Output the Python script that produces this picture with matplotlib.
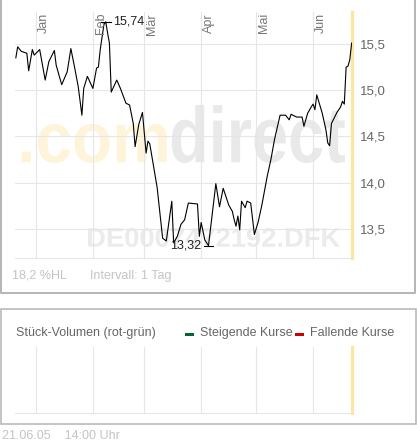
"""comdirect style price chart (Dec 2004 - Jun 2005) -> out.png"""

import numpy as np
import matplotlib
matplotlib.use("Agg")
import matplotlib.pyplot as plt
from matplotlib.font_manager import FontProperties
from matplotlib.patches import PathPatch, Rectangle
from matplotlib.textpath import TextPath
from matplotlib.transforms import Affine2D

plt.rcParams["font.family"] = ["Liberation Sans", "DejaVu Sans"]

# days since 2005-01-01, closing price
DAYS = [-11, -10, -8, -5, -4, -2, -1, 2, 5, 7, 10, 11, 14, 17, 19, 21, 23, 25, 26, 28,
        31, 33, 34, 35, 37, 38, 39, 40, 41, 44, 46, 49, 51, 53, 54, 56, 58, 60, 61, 62,
        66, 69, 71, 74, 75, 77, 79, 81, 83, 88, 89, 90, 92, 94, 98, 100, 102, 105, 107, 108,
        109, 110, 111, 112, 114, 115, 117, 119, 121, 123, 126, 128, 130, 133, 136, 138, 139, 142, 145, 146,
        148, 150, 151, 152, 153, 156, 158, 159, 160, 161, 164, 166, 167, 168, 169, 170, 171, 172]
PRICE = [15.35, 15.47, 15.42, 15.40, 15.21, 15.44, 15.38, 15.44, 15.11, 15.31, 15.43, 15.27, 15.06, 15.20, 15.45, 15.25, 15.04, 14.73, 15.02, 15.15,
         15.02, 15.24, 15.25, 15.44, 15.71, 15.74, 15.62, 15.51, 14.98, 15.11, 15.02, 14.86, 14.84, 14.64, 14.39, 14.63, 14.76, 14.32, 14.45, 14.42,
         13.95, 13.40, 13.37, 13.80, 13.35, 13.42, 13.55, 13.60, 13.78, 13.77, 13.42, 13.57, 13.38, 13.32, 13.99, 13.74, 13.94, 13.76, 13.69, 13.60,
         13.53, 13.64, 13.49, 13.80, 13.73, 13.80, 13.78, 13.44, 13.57, 13.75, 14.07, 14.25, 14.47, 14.73, 14.73, 14.68, 14.74, 14.71, 14.71, 14.61,
         14.75, 14.82, 14.85, 14.79, 14.95, 14.75, 14.57, 14.43, 14.40, 14.64, 14.76, 14.82, 14.88, 14.85, 15.25, 15.26, 15.33, 15.51]

MONTHS = ["Jan", "Feb", "Mär", "Apr", "Mai", "Jun"]
MONTH_DAY = [0, 31, 59, 90, 120, 151]
YTICKS = [13.5, 14.0, 14.5, 15.0, 15.5]

W, H = 417, 443
GRID = "#e6e6e6"
YELLOW = "#fbe6a2"
FRAME = "#b4b4b4"
FAINT = "#c4c4c4"
XLIM = (-11.45, 172.2)


def fx(px):
    return px / W


def fy(py):
    return 1 - py / H


def stamp(ov, s, box, color):
    # watermark text squeezed into a pixel box (left, top, right, bottom)
    tp = TextPath((0, 0), s, size=10, prop=FontProperties(family="Liberation Sans", weight="bold"))
    bb = tp.get_extents()
    x0, y0, x1, y1 = box
    tr = (Affine2D().translate(-bb.x0, -bb.y0)
          .scale((x1 - x0) / bb.width, -(y1 - y0) / bb.height).translate(x0, y1))
    ov.add_patch(PathPatch(tr.transform_path(tp), fc=color, ec="none", lw=0, zorder=1))


fig = plt.figure(figsize=(W / 100, H / 100), dpi=100)

# overlay in pixel coordinates: frames, watermark, loose texts
ov = fig.add_axes([0, 0, 1, 1])
ov.set_xlim(0, W); ov.set_ylim(H, 0); ov.axis("off")
ov.plot([0.8, 0.8, 415, 415], [-2, 293, 293, -2], color=FRAME, lw=1.4)
ov.add_patch(Rectangle((0.5, 309), 415.5, 115, fc="none", ec=FRAME, lw=1.1))
stamp(ov, ".com", (21.7, 124, 166.7, 163), "#fef4da")
stamp(ov, "direct", (171.7, 105, 345, 163), "#e9e9e9")
stamp(ov, "DE0007472192.DFK", (88, 228, 340, 247), "#ebebeb")
ov.text(12, 276, "18,2 %HL", color=FAINT, fontsize=9, va="center")
ov.text(90, 276, "Intervall: 1 Tag", color=FAINT, fontsize=9, va="center")
ov.text(16, 333, "Stück-Volumen (rot-grün)", color="#666666", fontsize=9, va="center")
ov.add_patch(Rectangle((185, 333), 9, 3, fc="#006633", ec="none"))
ov.text(200, 333, "Steigende Kurse", color="#666666", fontsize=9, va="center")
ov.add_patch(Rectangle((295, 333), 9, 3, fc="#cc0000", ec="none"))
ov.text(310, 333, "Fallende Kurse", color="#666666", fontsize=9, va="center")
ov.text(2, 436, "21.06.05    14:00 Uhr", color=FAINT, fontsize=9, va="center")

# price panel
ax = fig.add_axes([fx(15), fy(258), fx(337), (258 - 12) / H], facecolor="none")
ax.plot(DAYS, PRICE, color="black", lw=0.8, zorder=3)
ax.set_xlim(*XLIM)
ax.set_ylim(13.186, 15.846)
for d in MONTH_DAY:
    ax.axvline(d, color=GRID, lw=0.8, zorder=2)
for v in YTICKS:
    ax.axhline(v, color=GRID, lw=0.8, zorder=2)
for name, d in zip(MONTHS, MONTH_DAY):
    ax.annotate(name, xy=(d, 1), xycoords=("data", "axes fraction"), xytext=(2, -1),
                textcoords="offset pixels", rotation=90, ha="left", va="top",
                color="#777777", fontsize=9)
ax.yaxis.tick_right()
ax.set_yticks(YTICKS)
ax.set_yticklabels([f"{v:.1f}".replace(".", ",") for v in YTICKS])
ax.tick_params(axis="y", length=0, pad=6, labelcolor="#666666", labelsize=9.5)
ax.set_xticks([])
for s in ("top", "left"):
    ax.spines[s].set_visible(False)
ax.spines["bottom"].set_color(GRID)
ax.spines["right"].set_color(YELLOW)
ax.spines["right"].set_linewidth(2.3)

# high / low markers
for i, side in ((int(np.argmax(PRICE)), 1), (int(np.argmin(PRICE)), -1)):
    d, p = DAYS[i], PRICE[i]
    ax.plot([d - 2.7, d + 2.7], [p, p], color="black", lw=0.8, zorder=3)
    ax.annotate(f"{p:.2f}".replace(".", ","), xy=(d, p), xytext=(7 * side, 0),
                textcoords="offset pixels", ha="left" if side > 0 else "right",
                va="center", color="#222222", fontsize=9, zorder=4)

# volume panel (empty)
vx = fig.add_axes([fx(15), fy(413), fx(337), (413 - 347) / H], facecolor="none")
vx.set_xlim(*XLIM)
vx.set_ylim(0, 1)
for d in MONTH_DAY:
    vx.axvline(d, color=GRID, lw=0.8)
vx.set_xticks([]); vx.set_yticks([])
for s in ("top", "left"):
    vx.spines[s].set_visible(False)
vx.spines["bottom"].set_color(GRID)
vx.spines["right"].set_color(YELLOW)
vx.spines["right"].set_linewidth(2.3)

fig.savefig("out.png", dpi=100)
